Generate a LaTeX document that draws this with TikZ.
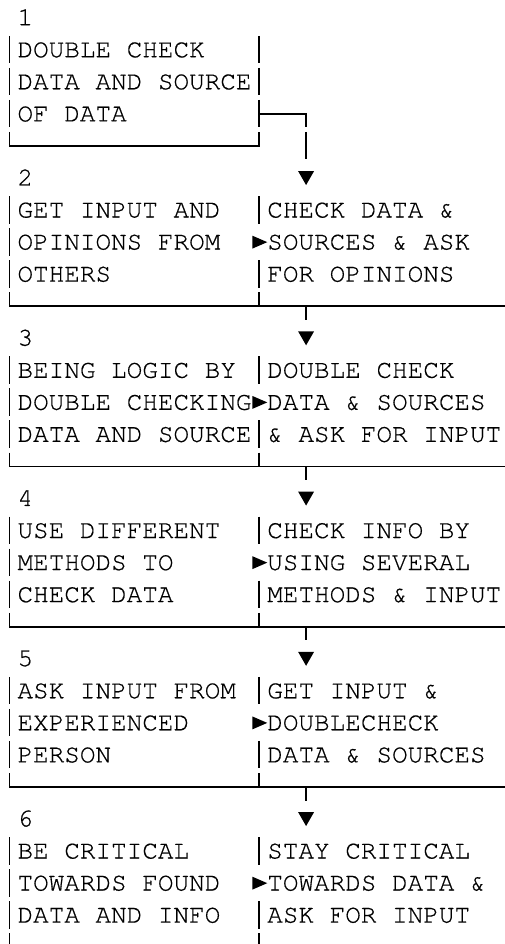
\documentclass[tikz,border=0pt]{standalone}
\usepackage{fontspec}
\newfontfamily\cur[BoldFont={TeX Gyre Cursor}, BoldFeatures={FakeBold=0.5}]{TeX Gyre Cursor}
\newcommand\segfull[2]{\draw[ln] ({cx(#1)},{ry(#2)-14}) -- ({cx(#1)},{ry(#2)+13.5});}
\newcommand\segupper[2]{\draw[ln] ({cx(#1)},{ry(#2)-14}) -- ({cx(#1)},{ry(#2)});}
\newcommand\seglower[2]{\draw[ln] ({cx(#1)},{ry(#2)}) -- ({cx(#1)},{ry(#2)+13.5});}
\newcommand\dnarrow[3]{\coordinate (#3) at ({cx(#1)},{ry(#2)-7});
  \fill[tri] ({cx(#1)-8},{ry(#2)-7}) -- ({cx(#1)+8},{ry(#2)-7}) -- ({cx(#1)},{ry(#2)+7}) -- cycle;}
\newcommand\rtarrow[3]{\coordinate (#3) at ({cx(#1)-7},{ry(#2)});
  \fill[tri] ({cx(#1)-7},{ry(#2)-6.5}) -- ({cx(#1)-7},{ry(#2)+6.5}) -- ({cx(#1)+8},{ry(#2)}) -- cycle;}
\newcommand\txtat[4]{\node[txt] (#4) at ({cx(#1)-7.8},{ry(#2)+7.4}) {#3};}
% block: #1 number, #2 base row, #3-#5 left lines, #6-#8 right lines
\newcommand\blk[8]{%
  \txtat{1}{#2}{#1}{num#1}
  \dnarrow{19}{#2}{dn#1}
  \txtat{1}{#2+1}{#3}{la#1}
  \txtat{1}{#2+2}{#4}{lb#1}
  \txtat{1}{#2+3}{#5}{lc#1}
  \txtat{17}{#2+1}{#6}{ra#1}
  \txtat{17}{#2+2}{#7}{rb#1}
  \txtat{17}{#2+3}{#8}{rc#1}
  \segfull{0}{#2+1}\segfull{0}{#2+2}\segfull{0}{#2+3}
  \segfull{16}{#2+1}\segfull{16}{#2+3}
  \rtarrow{16}{#2+2}{rt#1}
}
\begin{document}
\begin{tikzpicture}[x=1pt,y=-1pt,
  declare function={cx(\c)=9.5+15.61*\c; ry(\r)=17.8+32.05*\r;},
  ln/.style={line width=1.7pt, black},
  txt/.style={font=\cur\bfseries\fontsize{26}{30}\selectfont, inner sep=0pt, anchor=base west, text=black},
  tri/.style={fill=black}]
\useasboundingbox (0,0) rectangle (505,944);
% block 1
\txtat{1}{0}{1}{num1}
\txtat{1}{1}{DOUBLE CHECK}{la1}
\txtat{1}{2}{DATA AND SOURCE}{lb1}
\txtat{1}{3}{OF DATA}{lc1}
\segfull{0}{1}\segfull{0}{2}\segfull{0}{3}
\segfull{16}{1}\segfull{16}{2}\segfull{16}{3}
\draw[ln] ({cx(0)},{ry(4)-14}) |- ({cx(16)},{ry(4)}) -- ({cx(16)},{ry(4)-14});
\coordinate (c1) at ({cx(16)},{ry(3)});
\draw[ln] (c1) -- ({cx(19)},{ry(3)}) -- ({cx(19)},{ry(3)+13.5});
\segfull{19}{4}
% blocks 2-6
\blk{2}{5}{GET INPUT AND}{OPINIONS FROM}{OTHERS}{CHECK DATA \&}{SOURCES \& ASK}{FOR OPINIONS}
\blk{3}{10}{BEING LOGIC BY}{DOUBLE CHECKING}{DATA AND SOURCE}{DOUBLE CHECK}{DATA \& SOURCES}{\& ASK FOR INPUT}
\blk{4}{15}{USE DIFFERENT}{METHODS TO}{CHECK DATA}{CHECK INFO BY}{USING SEVERAL}{METHODS \& INPUT}
\blk{5}{20}{ASK INPUT FROM}{EXPERIENCED}{PERSON}{GET INPUT \&}{DOUBLECHECK}{DATA \& SOURCES}
\blk{6}{25}{BE CRITICAL}{TOWARDS FOUND}{DATA AND INFO}{STAY CRITICAL}{TOWARDS DATA \&}{ASK FOR INPUT}
% bottom rows of blocks 2-5
\foreach \b in {9,14,19,24}{
  \draw[ln] ({cx(0)},{ry(\b)-14}) |- (505,{ry(\b)});
  \segupper{16}{\b}
  \seglower{19}{\b}
}
% last row (cut off)
\draw[ln] ({cx(0)},{ry(29)-14}) -- ({cx(0)},944);
\draw[ln] ({cx(16)},{ry(29)-14}) -- ({cx(16)},944);
\end{tikzpicture}
\end{document}
